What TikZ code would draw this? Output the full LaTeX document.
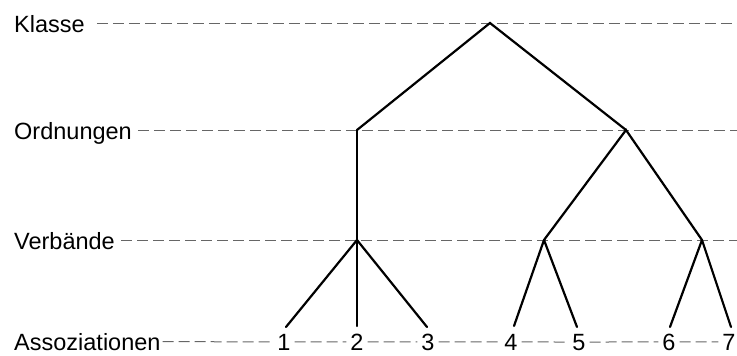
\documentclass[tikz,border=0pt]{standalone}
\usepackage{fontspec}
\setmainfont{Liberation Sans}
\begin{document}
\begin{tikzpicture}[x=1pt,y=-1pt,
  lbl/.style={anchor=base west,inner sep=0pt,font=\fontsize{23.5}{27}\selectfont},
  dig/.style={anchor=base,inner xsep=4pt,inner ysep=0pt,font=\fontsize{23.5}{27}\selectfont},
  guide/.style={draw=black!60,line width=1pt,dash pattern=on 11pt off 5pt},
  branch/.style={draw=black,line width=2.2pt,line cap=round,line join=miter}]
\useasboundingbox (0,0) rectangle (737,356);
\node[lbl] (klasse) at (14,32) {Klasse};
\node[lbl] (ordn) at (14,139) {Ordnungen};
\node[lbl] (verb) at (14,249) {Verbände};
\node[lbl] (assoz) at (14,350) {Assoziationen};
\coordinate (E) at (737,0);
\coordinate (K) at (490,23);
\coordinate (O1) at (357,130);
\coordinate (O2) at (626,130);
\coordinate (V1) at (357,240);
\coordinate (V2) at (544,240);
\coordinate (V3) at (702,240);
\node[dig] (n1) at (284,350) {1};
\node[dig] (n2) at (357,350) {2};
\node[dig] (n3) at (428,350) {3};
\node[dig] (n4) at (511,350) {4};
\node[dig] (n5) at (579,350) {5};
\node[dig] (n6) at (669,350) {6};
\node[dig] (n7) at (729,350) {7};
\coordinate (l1) at (286,327);
\coordinate (l2) at (357,326);
\coordinate (l3) at (427,327);
\coordinate (l4) at (514,326);
\coordinate (l5) at (577,327);
\coordinate (l6) at (670,327);
\coordinate (l7) at (731,327);
% guide lines
\draw[guide] ([xshift=12pt]klasse.east |- K) -- (K -| E);
\draw[guide] ([xshift=6pt]ordn.east |- O1) -- (O1 -| E);
\draw[guide] ([xshift=6pt]verb.east |- V1) -- (V1 -| E);
\draw[guide] ([xshift=2pt]assoz.east) -- (n1.west);
\draw[guide] (n1.east) -- (n2.west);
\draw[guide] (n2.east) -- (n3.west);
\draw[guide] (n3.east) -- (n4.west);
\draw[guide] (n4.east) -- (n5.west);
\draw[guide] (n5.east) -- (n6.west);
\draw[guide] (n6.east) -- (n7.west);
% tree
\draw[branch] (O1) -- (K) -- (O2);
\draw[branch] (O1) -- (V1);
\draw[branch] (V2) -- (O2) -- (V3);
\draw[branch] (V1) -- (l1);
\draw[branch] (V1) -- (l2);
\draw[branch] (V1) -- (l3);
\draw[branch] (V2) -- (l4);
\draw[branch] (V2) -- (l5);
\draw[branch] (V3) -- (l6);
\draw[branch] (V3) -- (l7);
\end{tikzpicture}
\end{document}
